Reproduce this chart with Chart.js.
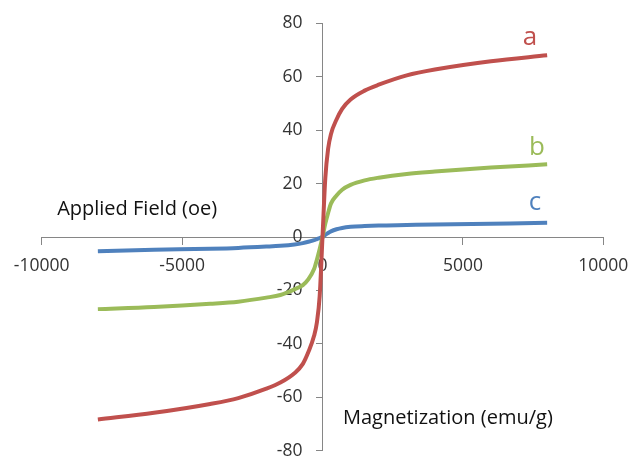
<!DOCTYPE html>
<html>
<head>
<meta charset="utf-8">
<script src="https://cdn.jsdelivr.net/npm/chart.js@4/dist/chart.umd.min.js"></script>
<style>
  html, body { margin: 0; padding: 0; background: #ffffff; }
  #wrap { width: 632px; height: 456px; }
</style>
</head>
<body>
<div id="wrap"><canvas id="c" width="632" height="456"></canvas></div>
<script>
// Applied field (oe) sample points
const fieldValues = [-8000, -6000, -4000, -3000, -2000, -1500, -1000, -700, -500, -300, -200, -100, 0, 100, 200, 300, 500, 700, 1000, 1500, 2000, 3000, 4000, 6000, 8000];
// Magnetization (emu/g) per sample
const seriesA = [-68.3, -65.8, -62.5, -60.3, -56.8, -54.5, -51.0, -47.5, -43.0, -37.0, -32.0, -22.0, 0, 22.0, 33.0, 38.5, 44.0, 48.0, 51.5, 54.8, 57.0, 60.5, 62.7, 65.8, 68.0];
const seriesB = [-27.0, -26.2, -25.0, -24.2, -22.7, -21.7, -19.6, -18.0, -15.8, -12.0, -8.5, -4.5, 0, 5.0, 9.0, 12.5, 15.5, 17.7, 19.5, 21.2, 22.2, 23.6, 24.5, 26.0, 27.2];
const seriesC = [-5.3, -4.8, -4.4, -4.1, -3.6, -3.3, -2.8, -2.3, -1.8, -1.2, -0.8, -0.4, 0, 0.8, 1.5, 2.1, 2.9, 3.4, 3.8, 4.1, 4.3, 4.5, 4.7, 5.0, 5.3];
const seriesNames = ['a', 'b', 'c'];
const seriesColors = ['#C0504D', '#9BBB59', '#4F81BD'];
// Series name labels, anchored in data coordinates
const nameLabelX = [7390, 7640, 7570];
const nameLabelY = [74.8, 33.3, 12.7];
// Axis title texts, anchored (left edge) in data coordinates
const titleTexts = ['Applied Field (oe)', 'Magnetization (emu/g)'];
const titleX = [-9450, 730];
const titleY = [10.5, -67.7];
// Axis ranges / ticks
const xMin = -10000, xMax = 10000, xStep = 5000;
const yMin = -80, yMax = 80, yStep = 20;

const FONT = "'Open Sans', 'Liberation Sans', sans-serif";
const AXIS_COLOR = '#868686';
const TEXT_COLOR = '#333333';
const Y_LABEL_GAP = 14;

function toPoints(ys) { return fieldValues.map((x, i) => ({ x: x, y: ys[i] })); }
const allSeries = [seriesA, seriesB, seriesC];

const datasets = allSeries.map((s, i) => ({
  label: seriesNames[i],
  data: toPoints(s),
  showLine: true,
  borderColor: seriesColors[i],
  backgroundColor: seriesColors[i],
  borderWidth: 4,
  pointRadius: 0,
  pointHoverRadius: 0,
  cubicInterpolationMode: 'monotone',
  fill: false
}));

const textPlugin = {
  id: 'texts',
  afterLayout(chart) {
    // shift the y-axis tick labels to the left of the axis' tick marks
    const ys = chart.scales.y;
    if (!ys._shifted) {
      const orig = ys.drawLabels;
      ys.drawLabels = function (area) {
        const ctx = this.ctx;
        ctx.save();
        ctx.translate(-(this.options.grid.tickLength + Y_LABEL_GAP), 0);
        orig.call(this, area);
        ctx.restore();
      };
      ys._shifted = true;
    }
  },
  afterDatasetsDraw(chart) {
    const ctx = chart.ctx;
    const xs = chart.scales.x, ys = chart.scales.y;
    ctx.save();
    ctx.textBaseline = 'middle';
    ctx.textAlign = 'left';
    ctx.fillStyle = '#111111';
    ctx.font = '20px ' + FONT;
    titleTexts.forEach((t, i) => {
      ctx.fillText(t, xs.getPixelForValue(titleX[i]), ys.getPixelForValue(titleY[i]));
    });
    ctx.textAlign = 'center';
    ctx.font = '26px ' + FONT;
    seriesNames.forEach((n, i) => {
      ctx.fillStyle = seriesColors[i];
      ctx.fillText(n, xs.getPixelForValue(nameLabelX[i]), ys.getPixelForValue(nameLabelY[i]));
    });
    ctx.restore();
  }
};

new Chart(document.getElementById('c'), {
  type: 'scatter',
  data: { datasets: datasets },
  options: {
    responsive: false,
    animation: false,
    layout: { padding: { left: 41.7, right: 28.7, top: 23.3, bottom: 5.3 } },
    plugins: { legend: { display: false }, tooltip: { enabled: false } },
    scales: {
      x: {
        type: 'linear',
        position: { y: 0 },
        min: xMin, max: xMax,
        afterFit(scale) { scale.height = 0; scale.paddingLeft = 0; scale.paddingRight = 0; scale.paddingTop = 0; scale.paddingBottom = 0; },
        ticks: { stepSize: xStep, padding: 12, color: TEXT_COLOR, font: { family: FONT, size: 17.5 }, maxRotation: 0, autoSkip: false,
                 callback: (v) => String(v) },
        grid: { display: true, drawOnChartArea: false, drawTicks: true, tickLength: 7, color: AXIS_COLOR, lineWidth: 1 },
        border: { display: true, color: AXIS_COLOR, width: 1 }
      },
      y: {
        type: 'linear',
        position: { x: 0 },
        min: yMin, max: yMax,
        afterFit(scale) { scale.width = 0; scale.paddingLeft = 0; scale.paddingRight = 0; scale.paddingTop = 0; scale.paddingBottom = 0; },
        ticks: { stepSize: yStep, padding: 12, color: TEXT_COLOR, font: { family: FONT, size: 17.5 }, autoSkip: false,
                 callback: (v) => String(v) },
        grid: { display: true, drawOnChartArea: false, drawTicks: true, tickLength: 6, color: AXIS_COLOR, lineWidth: 1 },
        border: { display: true, color: AXIS_COLOR, width: 1 }
      }
    }
  },
  plugins: [textPlugin]
});
</script>
</body>
</html>
